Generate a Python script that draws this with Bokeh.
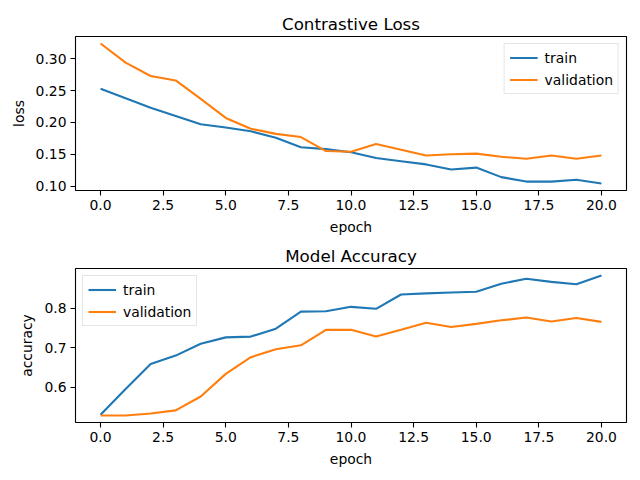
from bokeh.plotting import figure
from bokeh.layouts import column
from bokeh.models import Range1d, FixedTicker, NumeralTickFormatter, Legend, LegendItem
from bokeh.embed import file_html
from bokeh.resources import INLINE

epochs = list(range(21))
loss_train = [0.253, 0.238, 0.223, 0.210, 0.197, 0.192, 0.186, 0.176, 0.161, 0.158, 0.153,
              0.144, 0.139, 0.134, 0.126, 0.129, 0.114, 0.107, 0.107, 0.110, 0.104]
loss_val = [0.324, 0.294, 0.273, 0.266, 0.237, 0.207, 0.190, 0.182, 0.177, 0.155, 0.154,
            0.166, 0.157, 0.148, 0.150, 0.151, 0.146, 0.143, 0.148, 0.143, 0.148]
acc_train = [0.531, 0.596, 0.659, 0.680, 0.710, 0.726, 0.728, 0.748, 0.791, 0.792, 0.803,
             0.798, 0.834, 0.837, 0.839, 0.841, 0.861, 0.874, 0.866, 0.860, 0.882]
acc_val = [0.529, 0.529, 0.534, 0.542, 0.577, 0.634, 0.676, 0.696, 0.706, 0.745, 0.745,
           0.728, 0.745, 0.763, 0.752, 0.760, 0.769, 0.776, 0.766, 0.775, 0.765]
x_ticks = [0, 2.5, 5, 7.5, 10, 12.5, 15, 17.5, 20]
loss_ticks = [0.10, 0.15, 0.20, 0.25, 0.30]
acc_ticks = [0.6, 0.7, 0.8]
series_names = ["train", "validation"]

FONT = "DejaVu Sans"
C1, C2 = "#1f77b4", "#ff7f0e"


def padded(lo, hi, frac=0.05):
    d = (hi - lo) * frac
    return lo - d, hi + d


def make_plot(title, ylabel, ytr, yva, yticks, yfmt, legend_loc, top_border):
    x0, x1 = padded(min(epochs), max(epochs))
    y0, y1 = padded(min(ytr + yva), max(ytr + yva))
    p = figure(frame_width=551, frame_height=154, output_backend="svg", toolbar_location=None,
               x_range=Range1d(x0, x1), y_range=Range1d(y0, y1),
               min_border_left=75, min_border_right=6, min_border_top=top_border,
               min_border_bottom=48, title=title)
    p.background_fill_color = "white"
    p.border_fill_color = "white"
    p.outline_line_color = "black"
    p.outline_line_width = 1.1
    p.grid.visible = False
    p.title.text_font = FONT
    p.title.text_font_size = "16.7px"
    p.title.text_font_style = "normal"
    p.title.text_color = "black"
    p.title.align = "center"
    p.title.standoff = 6
    for ax in (p.xaxis[0], p.yaxis[0]):
        ax.axis_line_color = None
        ax.major_tick_line_color = "black"
        ax.major_tick_line_width = 1.1
        ax.major_tick_out = 5
        ax.major_tick_in = 0
        ax.minor_tick_line_color = None
        ax.major_label_text_font = FONT
        ax.major_label_text_font_size = "13.9px"
        ax.major_label_text_color = "black"
        ax.major_label_standoff = 4
        ax.axis_label_text_font = FONT
        ax.axis_label_text_font_size = "13.9px"
        ax.axis_label_text_font_style = "normal"
        ax.axis_label_text_color = "black"
        ax.axis_label_standoff = 6
    p.xaxis[0].ticker = FixedTicker(ticks=x_ticks)
    p.xaxis[0].formatter = NumeralTickFormatter(format="0.0")
    p.yaxis[0].ticker = FixedTicker(ticks=yticks)
    p.yaxis[0].formatter = NumeralTickFormatter(format=yfmt)
    p.xaxis[0].axis_label = "epoch"
    p.yaxis[0].axis_label = ylabel

    r1 = p.line(epochs, ytr, line_color=C1, line_width=2.1)
    r2 = p.line(epochs, yva, line_color=C2, line_width=2.1)
    legend = Legend(items=[LegendItem(label=series_names[0], renderers=[r1]),
                           LegendItem(label=series_names[1], renderers=[r2])],
                    location=legend_loc)
    legend.label_text_font = FONT
    legend.label_text_font_size = "13.9px"
    legend.label_text_color = "black"
    legend.glyph_width = 28
    legend.glyph_height = 17
    legend.label_height = 17
    legend.label_standoff = 7
    legend.spacing = 5
    legend.padding = 5
    legend.margin = 7
    legend.border_line_color = "#cccccc"
    legend.border_line_width = 1
    legend.background_fill_alpha = 0.8
    p.add_layout(legend)
    return p


p1 = make_plot("Contrastive Loss", "loss", loss_train, loss_val, loss_ticks, "0.00", "top_right", 36)
p2 = make_plot("Model Accuracy", "accuracy", acc_train, acc_val, acc_ticks, "0.0", "top_left", 30)

layout = column(p1, p2)
open("out.html", "w").write(file_html(layout, INLINE))
